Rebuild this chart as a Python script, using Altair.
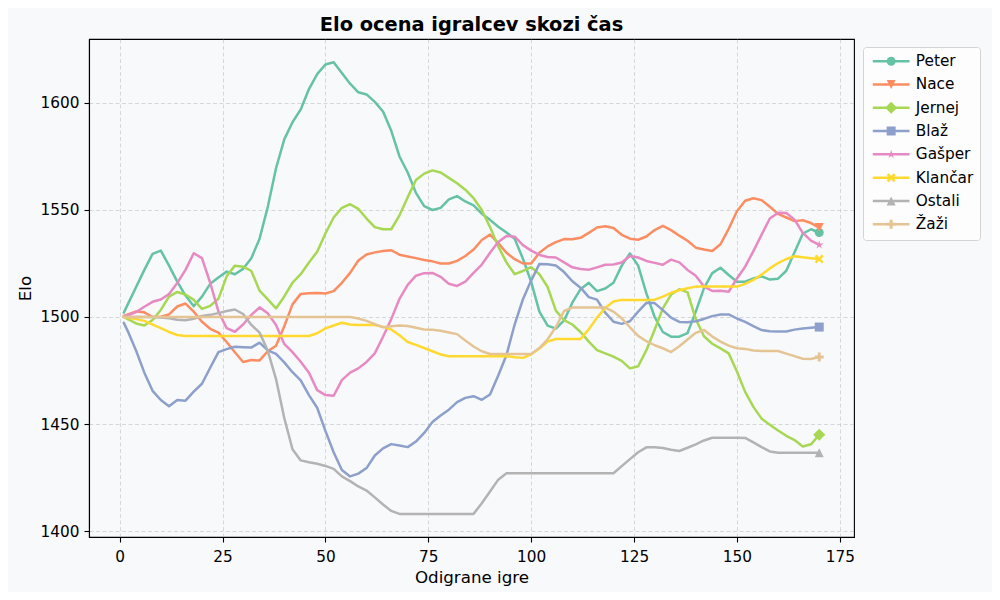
import altair as alt
import pandas as pd

PLAYERS = ["Peter", "Nace", "Jernej", "Blaž", "Gašper", "Klančar", "Ostali", "Žaži"]
COLORS = ["#66c2a5", "#fc8d62", "#a6d854", "#8da0cb", "#e78ac3", "#ffd92f", "#b3b3b3", "#e5c494"]

# games: 1, then every second game up to 170
GAMES = [1] + list(range(2, 171, 2))

PETER = [1502, 1506, 1514, 1522, 1529.5, 1531, 1524, 1516.5, 1510, 1505,
         1509.5, 1515.5, 1518.5, 1521.2, 1520, 1522.5, 1527.5, 1536.6, 1551.5, 1569.5,
         1583, 1591, 1597, 1606.5, 1613.5, 1618, 1619, 1614, 1609, 1605,
         1604, 1600.5, 1596, 1587, 1575, 1567.5, 1558, 1551.8, 1550, 1551,
         1555, 1556.5, 1554, 1552.2, 1548.3, 1545.4, 1542.2, 1539.5, 1536.5, 1527.2,
         1516.4, 1502.5, 1496, 1494.6, 1498.4, 1506.7, 1513, 1516, 1512.1, 1513.3,
         1516, 1524, 1529.7, 1524, 1511, 1500, 1493, 1490.8, 1490.8, 1492.5,
         1502.5, 1513.5, 1520.5, 1523, 1519.6, 1516.5, 1516.5, 1518, 1519, 1517.5,
         1517.9, 1521.6, 1530.3, 1538.9, 1541, 1539.5]
NACE = [1500.5, 1501.2, 1502.6, 1502.2, 1500, 1500.1, 1501.2, 1504.9, 1506.3, 1502.5,
        1497.8, 1494.5, 1492.7, 1488.3, 1483.5, 1479, 1479.9, 1479.7, 1484, 1486.6,
        1495.7, 1505.9, 1510.8, 1511.1, 1511.2, 1511, 1512.1, 1516, 1520.6, 1526.4,
        1529.2, 1530.2, 1530.8, 1531.2, 1529.1, 1528.3, 1527.5, 1526.6, 1526, 1525,
        1525, 1526.2, 1528.5, 1531.5, 1536, 1538.5, 1534.5, 1530, 1527, 1525,
        1525, 1530, 1533, 1535, 1536.4, 1536.3, 1537, 1539.3, 1541.8, 1542.4,
        1541.6, 1538.4, 1536.6, 1536.1, 1537.6, 1540.6, 1542.6, 1540.6, 1538, 1535.6,
        1532.4, 1531.5, 1530.8, 1534, 1541.2, 1549.4, 1554.3, 1555.5, 1554.6, 1551.5,
        1548.2, 1546.5, 1544.8, 1545.2, 1543.9, 1541.8]
JERNEJ = [1500, 1499, 1497, 1496, 1498.6, 1503.3, 1509.5, 1511.7, 1510.5, 1508,
          1503.8, 1505.2, 1508.5, 1519, 1524, 1523.5, 1521.5, 1512.3, 1508.2, 1504,
          1509.6, 1516, 1520, 1525.5, 1530.5, 1539, 1546.5, 1551, 1552.7, 1550.5,
          1546, 1542, 1541, 1541, 1547.5, 1556, 1564, 1567, 1568.5, 1567.5,
          1565, 1562.5, 1559.5, 1555.5, 1550, 1542, 1533, 1525.5, 1520, 1521.5,
          1523.3, 1520, 1514, 1503, 1498.5, 1496.5, 1493, 1488.5, 1484.5, 1483,
          1481.5, 1479.5, 1476, 1477, 1484.5, 1494, 1504, 1510.5, 1513, 1511.5,
          1499, 1491, 1487.5, 1485.3, 1483, 1474.5, 1465, 1458, 1452.5, 1449.7,
          1447, 1444.5, 1442.5, 1439.5, 1440.5, 1445]
BLAZ = [1497.3, 1493.3, 1484.2, 1474, 1465.5, 1461.2, 1458.3, 1461.2, 1460.9, 1465.1,
        1468.8, 1476.3, 1483.6, 1485, 1486.1, 1485.9, 1485.7, 1488, 1484.4, 1482.8,
        1478.8, 1474.2, 1470.4, 1463.5, 1457.6, 1446.8, 1436.8, 1428.5, 1425.5, 1426.8,
        1429.4, 1435.3, 1438.6, 1440.6, 1440, 1439.2, 1441.8, 1445.8, 1450.9, 1454,
        1456.7, 1460.2, 1462.2, 1463, 1461.3, 1463.8, 1472.7, 1482.2, 1496.6, 1508.3,
        1517, 1524.8, 1524.6, 1524.1, 1521, 1516.7, 1513.7, 1509.3, 1508.1, 1502,
        1497.8, 1496.8, 1498, 1502.5, 1506.6, 1506.5, 1503.2, 1499.7, 1497.7, 1497.5,
        1498, 1499.1, 1500.4, 1501.2, 1501.2, 1499.3, 1497.7, 1495.7, 1493.9, 1493.3,
        1493.2, 1493.2, 1494.1, 1494.6, 1495, 1495.3]
GASPER = [1500.1, 1500.8, 1502.3, 1504.8, 1507.1, 1508.2, 1510.7, 1515.9, 1522, 1529.8,
          1527.5, 1516, 1502.6, 1494.8, 1493.1, 1496.5, 1501, 1504.5, 1501.7, 1496.3,
          1487.4, 1483.6, 1479.1, 1474, 1465.8, 1463.5, 1463.2, 1470.5, 1474, 1476,
          1479, 1483, 1490.8, 1499, 1508.5, 1515, 1519.3, 1520.5, 1520.6, 1518.8,
          1515.5, 1514.5, 1516.5, 1520.6, 1524.5, 1530, 1535, 1537.9, 1537.5, 1533.6,
          1531, 1529, 1528, 1527.8, 1525.5, 1523.2, 1522.4, 1522.1, 1523.2, 1524.4,
          1524.5, 1525.5, 1528.5, 1527.8, 1526.2, 1525.3, 1524.4, 1526.8, 1525.5, 1522,
          1519.3, 1514.2, 1512.2, 1512.3, 1511.8, 1518, 1523.5, 1530.8, 1538.5, 1546,
          1548.7, 1548.6, 1545.5, 1539.3, 1535.7, 1533.7]
KLANCAR = [1500, 1499.6, 1499, 1498.2, 1496.4, 1494.8, 1493, 1491.6, 1491.1, 1491.1,
           1491.1, 1491.1, 1491.1, 1491.1, 1491.1, 1491.1, 1491.1, 1491.1, 1491.1, 1491.1,
           1491.1, 1491.1, 1491.1, 1491.1, 1492.4, 1494.7, 1496, 1497.3, 1496.5, 1496.3,
           1496.3, 1496.3, 1495.4, 1494.2, 1491.5, 1488.3, 1487, 1485.5, 1484, 1482.5,
           1481.7, 1481.7, 1481.7, 1481.7, 1481.7, 1481.7, 1481.7, 1481.7, 1481.2, 1480.9,
           1482.6, 1485.3, 1488.5, 1489.7, 1489.7, 1489.7, 1489.7, 1494.3, 1499.7, 1504.2,
           1507.2, 1508, 1508, 1508, 1508, 1508.1, 1509.5, 1511.3, 1512.5, 1513.4,
           1514.2, 1514.2, 1514.2, 1514.2, 1514.2, 1514.2, 1515.5, 1517.3, 1519.8, 1522.7,
           1525.2, 1527.1, 1528.4, 1527.9, 1527.5, 1527.1]
OSTALI = [1500, 1500, 1500, 1500, 1500, 1499.8, 1499.4, 1498.7, 1498.5, 1499.2,
          1500.5, 1501, 1501.8, 1502.8, 1503.5, 1501.4, 1496.3, 1492.7, 1484.2, 1471,
          1452.8, 1438.2, 1433, 1432.1, 1431.4, 1430.4, 1429, 1425.5, 1423.3, 1420.8,
          1418.9, 1415.7, 1412.4, 1409.4, 1408, 1408, 1408, 1408, 1408, 1408,
          1408, 1408, 1408, 1408, 1413, 1418.5, 1424, 1427, 1427, 1427,
          1427, 1427, 1427, 1427, 1427, 1427, 1427, 1427, 1427, 1427,
          1427, 1430.3, 1433.6, 1436.8, 1439.1, 1439.1, 1438.8, 1438, 1437.4, 1438.9,
          1440.5, 1442.3, 1443.6, 1443.6, 1443.6, 1443.6, 1443.5, 1441.4, 1439.2, 1437.2,
          1436.6, 1436.6, 1436.6, 1436.6, 1436.6, 1436.6]
ZAZI = [1500, 1500, 1500, 1500, 1500, 1500, 1500, 1500, 1500, 1500,
        1500, 1500, 1500, 1500, 1500, 1500, 1500, 1500, 1500, 1500,
        1500, 1500, 1500, 1500, 1500, 1500, 1500, 1500, 1500, 1499.3,
        1498.2, 1496.7, 1495.2, 1495.7, 1496, 1495.8, 1495, 1494.2, 1494, 1493.6,
        1492.8, 1492, 1489, 1486.2, 1484, 1482.7, 1482.7, 1482.7, 1482.7, 1482.7,
        1482.7, 1485.5, 1489.6, 1495.3, 1502.8, 1504.4, 1504.4, 1504.4, 1504.4, 1504.4,
        1502.5, 1499.4, 1495.2, 1491.2, 1488.7, 1486.8, 1485.4, 1483.6, 1486.3, 1489.5,
        1492.6, 1493.9, 1490.9, 1488.5, 1486.6, 1485.4, 1485.1, 1484.3, 1484.1, 1484.1,
        1484.1, 1482.9, 1481.7, 1480.5, 1480.4, 1481.3]

SERIES = [PETER, NACE, JERNEJ, BLAZ, GASPER, KLANCAR, OSTALI, ZAZI]

X_TICKS = [0, 25, 50, 75, 100, 125, 150, 175]
Y_TICKS = [1400, 1450, 1500, 1550, 1600]

# marker shapes (unit box), all drawn clockwise
MARKERS = [
    "M1,0A1,1 0 1,1 -1,0A1,1 0 1,1 1,0Z",                      # o
    "M-1,-1H1L0,1Z",                                            # v
    "M0,-1.35L1.35,0L0,1.35L-1.35,0Z",                          # D
    "M-1,-1H1V1H-1Z",                                           # s
    "M0,-1L0.224,-0.307L0.951,-0.309L0.361,0.117L0.588,0.809L0,0.38L-0.588,0.809L-0.361,0.117L-0.951,-0.309L-0.224,-0.307Z",  # *
    "M-1,-0.6L-0.6,-1L0,-0.4L0.6,-1L1,-0.6L0.4,0L1,0.6L0.6,1L0,0.4L-0.6,1L-1,0.6L-0.4,0Z",  # X
    "M0,-1L1,1H-1Z",                                            # ^
    "M-0.33,-1H0.33V-0.33H1V0.33H0.33V1H-0.33V0.33H-1V-0.33H-0.33Z",  # P
]
LINE_PATH = "M-4.08,-0.28H4.08V0.28H-4.08Z"
LEGEND_SHAPES = [LINE_PATH + " " + m for m in MARKERS]

rows = []
for p, vals in zip(PLAYERS, SERIES):
    assert len(vals) == len(GAMES), (p, len(vals))
    for g, v in zip(GAMES, vals):
        rows.append({"player": p, "game": g, "elo": v})
df = pd.DataFrame(rows)
last = df[df["game"] == GAMES[-1]].reset_index(drop=True)

FONT = "DejaVu Sans"

x_enc = alt.X(
    "game:Q",
    scale=alt.Scale(domain=[-7.45, 178.45], nice=False, zero=False),
    axis=alt.Axis(values=X_TICKS, title="Odigrane igre", format="d"),
)
y_enc = alt.Y(
    "elo:Q",
    scale=alt.Scale(domain=[1397.2, 1629.9], nice=False, zero=False),
    axis=alt.Axis(values=Y_TICKS, title="Elo", format="d"),
)

layers = []
for i, p in enumerate(PLAYERS):
    sub = alt.Chart(df).transform_filter(alt.datum.player == p)
    layers.append(
        sub.mark_line(color=COLORS[i], strokeWidth=2.5, strokeJoin="round", strokeCap="round")
        .encode(x=x_enc, y=y_enc)
    )
    layers.append(
        alt.Chart(last).transform_filter(alt.datum.player == p)
        .mark_point(shape=MARKERS[i], filled=True, size=81, color=COLORS[i], opacity=1)
        .encode(x=x_enc, y=y_enc)
    )

legend = alt.Legend(
    title=None, orient="none", legendX=774, legendY=8,
    labelFont=FONT, labelFontSize=15.3, labelColor="black",
    symbolSize=81, symbolStrokeWidth=0, symbolOpacity=1,
    symbolOffset=14, labelOffset=17, rowPadding=7.3, padding=6.5,
    strokeColor="#d4d4d4", fillColor="#fdfdfe", cornerRadius=3,
)
legend_layer = alt.Chart(last).mark_point(filled=True, opacity=0, size=81).encode(
    x=x_enc, y=y_enc,
    color=alt.Color("player:N", scale=alt.Scale(domain=PLAYERS, range=COLORS), legend=legend),
    shape=alt.Shape("player:N", scale=alt.Scale(domain=PLAYERS, range=LEGEND_SHAPES), legend=legend),
)
layers.append(legend_layer)

chart = alt.layer(*layers).properties(
    width=765, height=498,
    autosize="none",
    padding={"left": 81, "top": 31, "right": 138, "bottom": 55},
    background="#f8f9fb",
    title=alt.TitleParams(
        "Elo ocena igralcev skozi čas", font=FONT, fontSize=19.4, fontWeight="bold",
        color="black", anchor="middle", offset=4,
    ),
).configure_view(
    stroke="black", strokeWidth=1.1, fill="#f8f9fb",
).configure_axis(
    labelFont=FONT, labelFontSize=15.3, labelColor="black",
    titleFont=FONT, titleFontSize=16.7, titleFontWeight="normal", titleColor="black",
    domainColor="black", domainWidth=1.1,
    tickColor="black", tickSize=5, tickWidth=1.1,
    grid=True, gridColor="#b0b0b0", gridOpacity=0.6, gridDash=[4, 2.5], gridWidth=0.8,
).configure_axisX(
    labelPadding=7, titlePadding=5,
).configure_axisY(
    labelPadding=5, titlePadding=6,
)

chart.save("out.html", embed_options={"renderer": "svg", "actions": False})
